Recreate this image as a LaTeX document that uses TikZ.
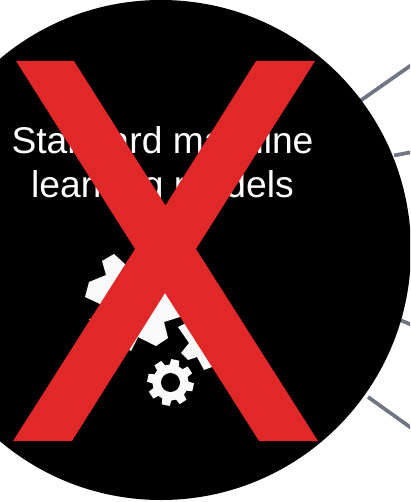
\documentclass[tikz,border=0pt]{standalone}
\usepackage{fontspec}
\setmainfont{Liberation Sans}
\definecolor{crossred}{HTML}{DF2827}
\definecolor{linkgrey}{HTML}{6E7585}
\definecolor{gearwhite}{HTML}{FAFAFA}
\tikzset{
  link/.style={draw=linkgrey,line width=3.7pt},
  gearpart/.style={fill=gearwhite,draw=none},
  caption/.style={text=white,font=\fontsize{37.2}{44.6}\selectfont,align=center,inner sep=0pt}
}
\begin{document}
\begin{tikzpicture}[x=1pt,y=-1pt]
\useasboundingbox (0,0) rectangle (410,502);
\clip (0,0) rectangle (410,502);
% connectors leaving the disc
\coordinate (a1) at (360,101); \coordinate (b1) at (412,64.6);
\coordinate (a2) at (394,155.5); \coordinate (b2) at (412,152);
\coordinate (a3) at (395,318); \coordinate (b3) at (412,325);
\coordinate (a4) at (368,397); \coordinate (b4) at (412,428.5);
\draw[link] (a1) -- (b1);
\draw[link] (a2) -- (b2);
\draw[link] (a3) -- (b3);
\draw[link] (a4) -- (b4);
% disc
\fill[black] (161,250) circle[radius=250];
\node[caption] (title) at (162.5,166) {Standard machine\\learning models};
% large gear
\fill[gearpart] (102,261) -- (114,254) -- (125,264) -- (165,280) -- (195,300) -- (180,317)
  -- (164,322) -- (168,338) -- (156,346) -- (138,337) -- (131,351) -- (120,345)
  -- (110,322) -- (88.5,319.5) -- (110,312) -- (100,304) -- (85,297) -- (89,282) -- (106,275) -- cycle;
% middle gear
\fill[gearpart] (178,327) -- (186,323) -- (215,320) -- (225,365) -- (212,367) -- (204,370)
  -- (197,357) -- (188,360) -- (181,353) -- (189,343) -- cycle;
% small gear
\begin{scope}[shift={(170.5,382.5)},y=1pt]
\fill[gearpart]
  (78-15:18) -- (78-10:23.5) -- (78+10:23.5) -- (78+15:18)
  -- (123-15:18) -- (123-10:23.5) -- (123+10:23.5) -- (123+15:18)
  -- (168-15:18) -- (168-10:23.5) -- (168+10:23.5) -- (168+15:18)
  -- (213-15:18) -- (213-10:23.5) -- (213+10:23.5) -- (213+15:18)
  -- (258-15:18) -- (258-10:23.5) -- (258+10:23.5) -- (258+15:18)
  -- (303-15:18) -- (303-10:23.5) -- (303+10:23.5) -- (303+15:18)
  -- (348-15:18) -- (348-10:23.5) -- (348+10:23.5) -- (348+15:18)
  -- (393-15:18) -- (393-10:23.5) -- (393+10:23.5) -- (393+15:18) -- cycle;
\fill[black] (0,0) circle[radius=9.5];
\end{scope}
% red cross
\fill[crossred] (16,61) -- (74,61) -- (165.5,205.5) -- (256,61) -- (315,61) -- (196,249)
  -- (318,441) -- (259,441) -- (165,293) -- (72,441) -- (13,441) -- (135,249) -- cycle;
\end{tikzpicture}
\end{document}
